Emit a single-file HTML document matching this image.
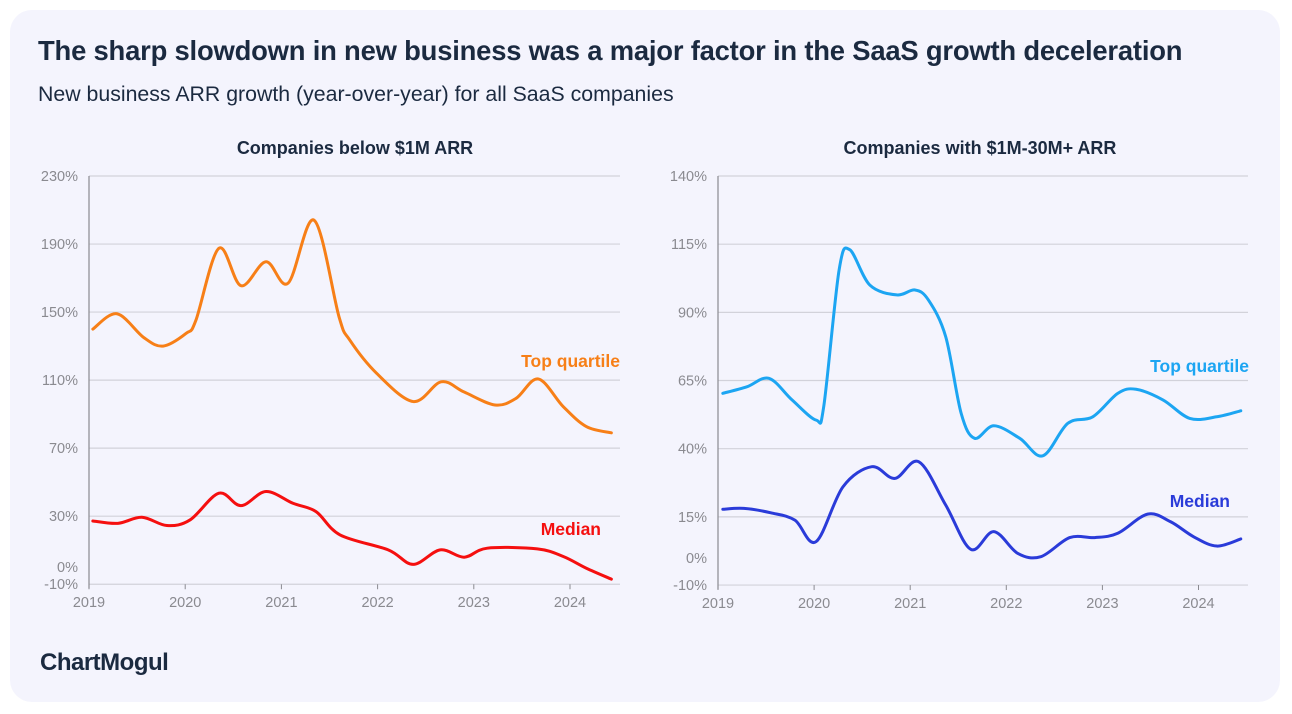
<!DOCTYPE html>
<html><head><meta charset="utf-8"><style>
body{margin:0;width:1292px;height:714px;background:#fff;font-family:"Liberation Sans",sans-serif;overflow:hidden}
.card{position:absolute;left:10px;top:10px;width:1270px;height:692px;background:#f4f4fd;border-radius:22px}
.t{position:absolute;left:38px;top:35px;font-size:27.4px;font-weight:bold;color:#1b2a40;letter-spacing:-0.2px;white-space:nowrap}
.s{position:absolute;left:38px;top:82px;font-size:21.3px;color:#1b2a40;white-space:nowrap}
.logo{position:absolute;left:40px;top:649px;font-size:24px;font-weight:bold;color:#1b2a40;letter-spacing:-0.5px}
svg{position:absolute;left:0;top:0}
</style></head><body>
<div class="card"></div>
<div class="t">The sharp slowdown in new business was a major factor in the SaaS growth deceleration</div>
<div class="s">New business ARR growth (year-over-year) for all SaaS companies</div>
<div class="logo">ChartMogul</div>
<svg id="svg" width="1292" height="714"></svg>
<script>
const years=[2019,2020,2021,2022,2023,2024];
const leftTicks=[230,190,150,110,70,30,0,-10];
const rightTicks=[140,115,90,65,40,15,0,-10];
const lTopT=[2019.04,2019.29,2019.57,2019.77,2020.01,2020.11,2020.35,2020.58,2020.84,2021.07,2021.34,2021.6,2021.71,2021.99,2022.37,2022.66,2022.9,2023.22,2023.44,2023.67,2023.93,2024.17,2024.43];
const lTopV=[140,149,135,130,137.5,145,187.5,165.5,179.6,167,204,147,133.6,114,97.4,109,103,95.4,99.3,110.7,94.4,82.7,79];
const lMedT=[2019.04,2019.3,2019.55,2019.81,2020.05,2020.35,2020.58,2020.84,2021.12,2021.36,2021.61,2022.11,2022.37,2022.65,2022.9,2023.14,2023.66,2023.93,2024.17,2024.43];
const lMedV=[27.2,25.8,29.4,24.5,27.8,43.5,36.2,44.5,37.6,32.7,19,10.2,1.7,10.2,5.9,11.2,10.8,6.3,-0.6,-7];
const rTopT=[2019.05,2019.3,2019.53,2019.77,2020.02,2020.1,2020.26,2020.37,2020.58,2020.86,2021.05,2021.19,2021.37,2021.53,2021.67,2021.87,2022.14,2022.38,2022.64,2022.9,2023.16,2023.35,2023.63,2023.91,2024.19,2024.44];
const rTopV=[60.3,62.7,65.8,57.9,50.5,55.4,105.5,113,100,96.4,98.2,94.5,81,53,43.8,48.4,43.8,37.4,49.3,51.7,60.3,61.8,57.9,51.1,51.7,53.9];
const rMedT=[2019.05,2019.27,2019.55,2019.8,2020.02,2020.3,2020.6,2020.84,2021.09,2021.37,2021.63,2021.87,2022.12,2022.36,2022.66,2022.92,2023.16,2023.47,2023.71,2023.95,2024.19,2024.44];
const rMedV=[17.8,18.1,16.5,13.8,5.9,26,33.4,29.1,35.2,19.3,3.1,9.6,1.6,0.4,7.4,7.4,9,16,13.2,7.7,4.3,6.9];
const NS='http://www.w3.org/2000/svg',svg=document.getElementById('svg');
function el(tag,attrs,parent){const e=document.createElementNS(NS,tag);for(const k in attrs)e.setAttribute(k,attrs[k]);(parent||svg).appendChild(e);return e;}
function smooth(p){let d='M'+p[0][0]+','+p[0][1];for(let i=0;i<p.length-1;i++){const a=p[i-1]||p[i],b=p[i],c=p[i+1],e=p[i+2]||c;d+=' C'+(b[0]+(c[0]-a[0])/6)+','+(b[1]+(c[1]-a[1])/6)+' '+(c[0]-(e[0]-b[0])/6)+','+(c[1]-(e[1]-b[1])/6)+' '+c[0]+','+c[1];}return d;}
function chart(o){
  const x=t=>o.x0+(t-2019)*o.ys, y=v=>o.yTop+(o.vmax-v)*o.py;
  const g=el('g',{});
  
  
  const tt=el('text',{x:o.cx,y:154,'text-anchor':'middle','font-size':18,'font-weight':'bold',fill:'#1b2a40'},g);tt.textContent=o.title;
  
  
  o.ticks.forEach(v=>{
    if(v!==0){const l=el('line',{x1:o.x0,x2:o.xEnd,y1:y(v),y2:y(v),stroke:'#d2d2da','stroke-width':1.2},g);
      
      }
    const t=el('text',{x:o.x0-11,y:y(v)+5,'text-anchor':'end','font-size':14.5,fill:'#8a8a90'},g);t.textContent=v+'%';
    
    
  });
  const ax=el('line',{x1:o.x0,x2:o.x0,y1:y(o.vmax),y2:y(-10)+4,stroke:'#8a8a90','stroke-width':1.2},g);
  
  
  years.forEach(yr=>{
    const tk=el('line',{x1:x(yr),x2:x(yr),y1:y(-10),y2:y(-10)+5,stroke:'#8a8a90'},g);
    
    
    const t=el('text',{x:x(yr),y:y(-10)+23,'text-anchor':'middle','font-size':14.5,fill:'#8a8a90'},g);t.textContent=yr;
    
    
  });
  o.series.forEach(s=>{
    const p=el('path',{d:smooth(s.t.map((t,i)=>[x(t),y(s.v[i])])),fill:'none',stroke:s.c,'stroke-width':3,'stroke-linejoin':'round','stroke-linecap':'round'},g);
    
    
    const l=el('text',{x:s.lx,y:s.ly,'text-anchor':'end','font-size':17.5,'font-weight':'bold',fill:s.c},g);l.textContent=s.label;
    
    
  });
}
chart({name:'left-chart',title:'Companies below $1M ARR',cx:355,x0:89,xEnd:620,ys:96.2,yTop:176,vmax:230,py:1.701,ticks:leftTicks,
  series:[{name:'top-quartile-line',label:'Top quartile',t:lTopT,v:lTopV,c:'#f77f17',lx:620,ly:367},
          {name:'median-line',label:'Median',t:lMedT,v:lMedV,c:'#f50f0f',lx:601,ly:535}]});
chart({name:'right-chart',title:'Companies with $1M-30M+ ARR',cx:980,x0:718,xEnd:1248,ys:96.1,yTop:176,vmax:140,py:2.727,ticks:rightTicks,
  series:[{name:'top-quartile-line',label:'Top quartile',t:rTopT,v:rTopV,c:'#1ca5f2',lx:1249,ly:372},
          {name:'median-line',label:'Median',t:rMedT,v:rMedV,c:'#2a3bd9',lx:1230,ly:507}]});
</script>
</body></html>
